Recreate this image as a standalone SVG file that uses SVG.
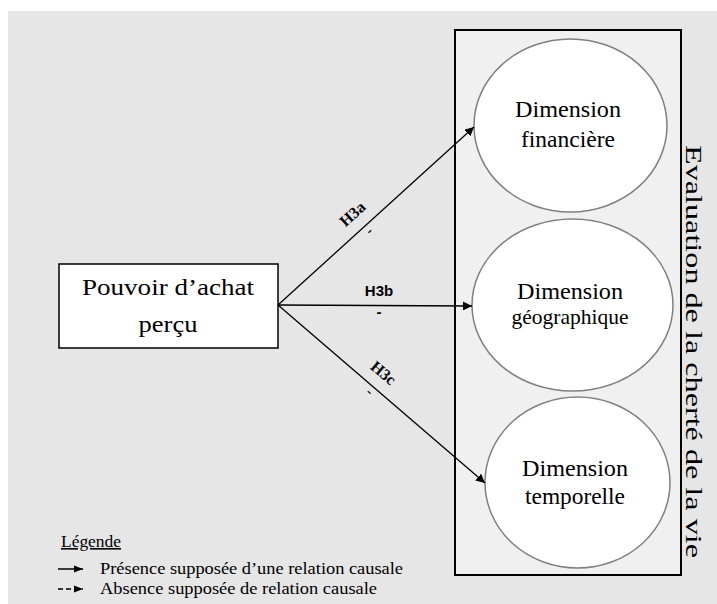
<svg xmlns="http://www.w3.org/2000/svg" width="717" height="604" viewBox="0 0 717 604">
<defs>
<marker id="ah" viewBox="0 0 10 10" refX="10" refY="5" markerWidth="9" markerHeight="9" markerUnits="userSpaceOnUse" orient="auto">
<path d="M0,0 L10,5 L0,10 z" fill="#000"/>
</marker>
<marker id="ahs" viewBox="0 0 10 10" refX="10" refY="5" markerWidth="9" markerHeight="9" markerUnits="userSpaceOnUse" orient="auto">
<path d="M0,1 L10,5 L0,9 z" fill="#000"/>
</marker>
</defs>
<style>
.t{font-family:"Liberation Serif","Times New Roman",serif;fill:#000}
.big{font-size:24px;text-anchor:middle}
.ell{fill:#fff;stroke:#808080;stroke-width:1.5}
.conn{stroke:#000;stroke-width:1.3;fill:none;marker-end:url(#ah)}
.lbl{font-size:16px;font-weight:bold;text-anchor:middle}
.leg{font-size:16px}
</style>
<rect x="8" y="11" width="709" height="593" fill="#e6e6e6"/>
<g id="evaluation">
<rect x="455" y="30" width="226" height="545" fill="#f0f0f0" stroke="#000" stroke-width="2"/>
<text class="t" font-size="23" transform="translate(686,145) rotate(90)" textLength="413" lengthAdjust="spacingAndGlyphs">Evaluation  de la cherté  de la vie</text>
</g>
<g id="financiere">
<ellipse class="ell" cx="570.5" cy="125.5" rx="96.5" ry="86.5"/>
<text class="t big" x="568" y="117" textLength="106" lengthAdjust="spacingAndGlyphs">Dimension</text>
<text class="t big" x="568" y="147" textLength="94" lengthAdjust="spacingAndGlyphs">financière</text>
</g>
<g id="geographique">
<ellipse class="ell" cx="572.5" cy="305" rx="100.5" ry="86"/>
<text class="t big" x="570" y="299" textLength="106" lengthAdjust="spacingAndGlyphs">Dimension</text>
<text class="t" font-size="21" text-anchor="middle" x="570" y="324" textLength="117" lengthAdjust="spacingAndGlyphs">géographique</text>
</g>
<g id="temporelle">
<ellipse class="ell" cx="577.5" cy="482.5" rx="92.5" ry="85.5"/>
<text class="t big" x="575" y="476" textLength="106" lengthAdjust="spacingAndGlyphs">Dimension</text>
<text class="t big" x="575" y="504" textLength="100" lengthAdjust="spacingAndGlyphs">temporelle</text>
</g>
<g id="pouvoir">
<rect x="59" y="264" width="219" height="84" fill="#fff" stroke="#000" stroke-width="1.5"/>
<text class="t" font-size="24" text-anchor="middle" x="168" y="295" textLength="172" lengthAdjust="spacingAndGlyphs">Pouvoir d’achat</text>
<text class="t" font-size="24" text-anchor="middle" x="168" y="332" textLength="59" lengthAdjust="spacingAndGlyphs">perçu</text>
</g>
<g id="connectors">
<line class="conn" x1="278" y1="305" x2="474" y2="127"/>
<line class="conn" x1="278" y1="305" x2="472" y2="306"/>
<line class="conn" x1="278" y1="305" x2="485" y2="483"/>
<text class="t lbl" transform="translate(356,218) rotate(-42)">H3a</text>
<text class="t" font-size="14" font-weight="bold" transform="translate(372,234) rotate(-42)" text-anchor="middle">-</text>
<text x="379" y="296" font-family="Liberation Sans, Arial, sans-serif" font-size="15" font-weight="bold" text-anchor="middle">H3b</text>
<text x="379" y="317" font-family="Liberation Sans, Arial, sans-serif" font-size="15" font-weight="bold" text-anchor="middle">-</text>
<text class="t lbl" transform="translate(380,377) rotate(40)">H3c</text>
<text class="t" font-size="14" font-weight="bold" transform="translate(367,395) rotate(40)" text-anchor="middle">-</text>
</g>
<g id="legende">
<text class="t leg" x="61" y="547" text-decoration="underline" textLength="60" lengthAdjust="spacingAndGlyphs">Légende</text>
<line x1="58" y1="569" x2="83" y2="569" stroke="#000" stroke-width="1.5" marker-end="url(#ahs)"/>
<text class="t leg" x="100" y="574" textLength="303" lengthAdjust="spacingAndGlyphs">Présence  supposée d’une relation  causale</text>
<line x1="58" y1="589" x2="83" y2="589" stroke="#000" stroke-width="1.5" stroke-dasharray="5,3" marker-end="url(#ahs)"/>
<text class="t leg" x="100" y="594" textLength="277" lengthAdjust="spacingAndGlyphs">Absence  supposée de relation  causale</text>
</g>
</svg>
